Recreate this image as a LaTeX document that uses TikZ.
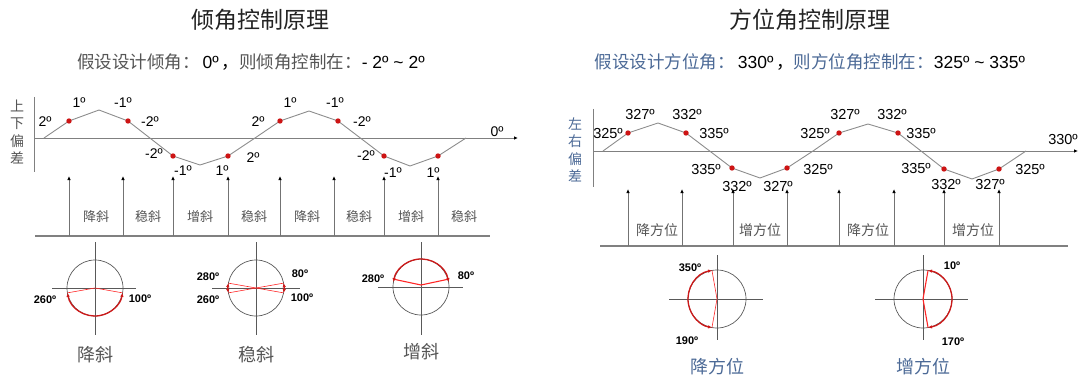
\documentclass[tikz,border=0pt]{standalone}
\usepackage{fontspec}
\setmainfont{Liberation Sans}
\newfontfamily\cjk{Noto Sans CJK SC}
\usetikzlibrary{arrows.meta}
\definecolor{ink}{RGB}{35,35,35}
\definecolor{cngray}{RGB}{85,85,85}
\definecolor{cnblue}{RGB}{75,105,150}
\definecolor{wave}{RGB}{140,140,140}
\definecolor{dot}{RGB}{205,20,20}
\definecolor{arcred}{RGB}{205,25,25}
\newcommand{\fs}[1]{\fontsize{#1}{#1}\selectfont}

\begin{document}
\begin{tikzpicture}[x=1pt,y=1pt,inner sep=0pt,
  deg/.style={font=\fs{14}},
  degr/.style={font=\fs{14.5}},
  ang/.style={font=\fs{11}\bfseries},
  band/.style={text=cngray,font=\fs{13}\cjk},
  bandr/.style={text=cngray,font=\fs{14}\cjk},
  dialname/.style={text=cngray,font=\fs{18}\cjk},
  ylab/.style={align=center,font=\fontsize{14}{17.5}\selectfont\cjk},
  axis/.style={draw=black!50,line width=0.8pt},
  wavel/.style={draw=wave,line width=0.9pt},
  up/.style={draw=black!55,line width=0.9pt,-{Latex[length=4pt,width=3.5pt,black]}},
  circ/.style={draw=black!65,line width=0.7pt},
  spoke/.style={draw=red!85,line width=0.6pt},
  swing/.style={draw=arcred,line width=1.3pt,{Latex[length=4pt,width=3.5pt]}-{Latex[length=4pt,width=3.5pt]}}]
  \useasboundingbox (0,0) rectangle (1083,378);

  % ---- tilt control (left) ----
  \node[font=\fs{23}\cjk,text=ink] (ttlL) at (260,358) {倾角控制原理};
  \node[font=\fs{17.5}] (subL) at (251,316) {{\cjk\color{cngray}假设设计倾角：}\,0º\,{\cjk ，}{\cjk\color{cngray}则倾角控制在：}- 2º \textasciitilde\ 2º};
  \node[ylab,text=cngray] (yL) at (17,246) {上\\下\\偏\\差};
  \draw[axis] (34,281) -- (34,206);
  \draw[axis,-{Latex[length=4pt,width=3.5pt,black]}] (34,240) -- (518,240);
  \node[deg] (z0) at (497,246) {0º};
  \draw[wavel] (44,240) -- (69,257) -- (99,268) -- (128,257) -- (173,222) -- (200,213) -- (228,222) -- (255,240)
    -- (280,257) -- (309,267) -- (338,257) -- (384,222) -- (410,212) -- (438,222) -- (466,240);
  \fill[dot] (69,257) circle (2.7); \fill[dot] (128,257) circle (2.7); \fill[dot] (173,222) circle (2.7); \fill[dot] (228,222) circle (2.7);
  \fill[dot] (280,257) circle (2.7); \fill[dot] (338,257) circle (2.7); \fill[dot] (384,222) circle (2.7); \fill[dot] (438,222) circle (2.7);
  \node[deg] (a1) at (45,256) {2º};   \node[deg] (a2) at (79,275) {1º};   \node[deg] (a3) at (123,275) {-1º}; \node[deg] (a4) at (150,256) {-2º};
  \node[deg] (a5) at (154,224) {-2º}; \node[deg] (a6) at (183,207) {-1º}; \node[deg] (a7) at (222,207) {1º};  \node[deg] (a8) at (253,220) {2º};
  \node[deg] (b1) at (258,256) {2º};  \node[deg] (b2) at (290,275) {1º};  \node[deg] (b3) at (335,275) {-1º}; \node[deg] (b4) at (362,256) {-2º};
  \node[deg] (b5) at (366,222) {-2º}; \node[deg] (b6) at (393,205) {-1º}; \node[deg] (b7) at (433,205) {1º};
  % moves
  \draw[axis,line width=1.1pt] (35,142) -- (490,142);
  \draw[up] (69,142) -- (69,202);   \draw[up] (123,142) -- (123,202); \draw[up] (173,142) -- (173,202); \draw[up] (228,142) -- (228,202);
  \draw[up] (280,142) -- (280,202); \draw[up] (334,142) -- (334,202); \draw[up] (384,142) -- (384,202); \draw[up] (438,142) -- (438,202);
  \node[band] (m1) at (96,161) {降斜};  \node[band] (m2) at (148,161) {稳斜}; \node[band] (m3) at (200,161) {增斜}; \node[band] (m4) at (254,161) {稳斜};
  \node[band] (m5) at (307,161) {降斜}; \node[band] (m6) at (359,161) {稳斜}; \node[band] (m7) at (411,161) {增斜}; \node[band] (m8) at (464,161) {稳斜};
  % dials
  \draw[circ] (95,90) circle (28); \draw[circ] (52,90) -- (136,90); \draw[circ] (95,136) -- (95,43);
  \draw[spoke] (95,90) -- ++(-10:28); \draw[spoke] (95,90) -- ++(-170:28);
  \draw[swing] (95,90) ++(-170:28) arc[start angle=-170,end angle=-10,radius=28];
  \node[ang] (d1a) at (45,78) {260º}; \node[ang] (d1b) at (140,79) {100º};
  \node[dialname] (c1) at (95,23) {降斜};
  \draw[circ] (256,90) circle (28); \draw[circ] (212,90) -- (300,90); \draw[circ] (256,136) -- (256,43);
  \draw[spoke] (256,90) -- ++(10:28); \draw[spoke] (256,90) -- ++(-10:28); \draw[spoke] (256,90) -- ++(170:28); \draw[spoke] (256,90) -- ++(190:28);
  \draw[swing] (256,90) ++(-10:28) arc[start angle=-10,end angle=10,radius=28];
  \draw[swing] (256,90) ++(170:28) arc[start angle=170,end angle=190,radius=28];
  \node[ang] (d2a) at (208,101) {280º}; \node[ang] (d2b) at (208,78) {260º}; \node[ang] (d2c) at (300,104) {80º}; \node[ang] (d2d) at (302,80) {100º};
  \node[dialname] (c2) at (256,23) {稳斜};
  \draw[circ] (421,91) circle (28); \draw[circ] (378,91) -- (463,91); \draw[circ] (421,136) -- (421,43);
  \draw[spoke,line width=1.1pt] (421,93) -- ++(12:27); \draw[spoke,line width=1.1pt] (421,93) -- ++(168:27);
  \draw[swing] (421,91) ++(10:28) arc[start angle=10,end angle=170,radius=28];
  \node[ang] (d3a) at (373,99) {280º}; \node[ang] (d3b) at (466,102) {80º};
  \node[dialname] (c3) at (421,26) {增斜};

  % ---- azimuth control (right) ----
  \node[font=\fs{23}\cjk,text=ink] (ttlR) at (810,358) {方位角控制原理};
  \node[font=\fs{17.5}] (subR) at (810,316) {{\cjk\color{cnblue}假设设计方位角：}\,330º\,{\cjk ，}{\cjk\color{cnblue}则方位角控制在：}325º \textasciitilde\ 335º};
  \node[ylab,text=cnblue] (yR) at (575,228) {左\\右\\偏\\差};
  \draw[axis] (593,269) -- (593,191);
  \draw[axis,-{Latex[length=4pt,width=3.5pt,black]}] (593,227) -- (1078,227);
  \node[degr] (z1) at (1063,238) {330º};
  \draw[wavel] (603,227) -- (628,245) -- (658,255) -- (686,245) -- (732,210) -- (760,200) -- (787,210) -- (813,227)
    -- (839,245) -- (868,254) -- (898,245) -- (944,209) -- (972,199) -- (999,209) -- (1026,227);
  \fill[dot] (628,245) circle (2.7); \fill[dot] (686,245) circle (2.7); \fill[dot] (732,210) circle (2.7); \fill[dot] (787,210) circle (2.7);
  \fill[dot] (839,245) circle (2.7); \fill[dot] (898,245) circle (2.7); \fill[dot] (944,209) circle (2.7); \fill[dot] (999,209) circle (2.7);
  \node[degr] (p1) at (608,244) {325º}; \node[degr] (p2) at (640,263) {327º}; \node[degr] (p3) at (687,263) {332º}; \node[degr] (p4) at (714,244) {335º};
  \node[degr] (p5) at (706,208) {335º}; \node[degr] (p6) at (737,191) {332º}; \node[degr] (p7) at (778,191) {327º}; \node[degr] (p8) at (818,208) {325º};
  \node[degr] (q1) at (815,244) {325º}; \node[degr] (q2) at (845,263) {327º}; \node[degr] (q3) at (892,263) {332º}; \node[degr] (q4) at (921,244) {335º};
  \node[degr] (q5) at (916,209) {335º}; \node[degr] (q6) at (946,193) {332º}; \node[degr] (q7) at (990,193) {327º}; \node[degr] (q8) at (1030,208) {325º};
  % moves
  \draw[axis,line width=1.1pt] (600,132) -- (1068,132);
  \draw[up] (628,132) -- (628,189); \draw[up] (682,132) -- (682,189); \draw[up] (733,132) -- (733,189); \draw[up] (787,132) -- (787,189);
  \draw[up] (839,132) -- (839,189); \draw[up] (894,132) -- (894,189); \draw[up] (944,132) -- (944,189); \draw[up] (999,132) -- (999,189);
  \node[bandr] (n1) at (657,148) {降方位}; \node[bandr] (n2) at (760,148) {增方位}; \node[bandr] (n3) at (868,148) {降方位}; \node[bandr] (n4) at (973,148) {增方位};
  % dials
  \draw[circ] (717,79) circle (29); \draw[circ] (669,79) -- (763,79); \draw[circ] (717,123) -- (717,38);
  \draw[spoke] (717,79) -- ++(100:29); \draw[spoke] (717,79) -- ++(260:29);
  \draw[swing] (717,79) ++(100:29) arc[start angle=100,end angle=260,radius=29];
  \node[ang] (e1a) at (690,110) {350º}; \node[ang] (e1b) at (687,37) {190º};
  \node[dialname,text=cnblue] (c4) at (717,11) {降方位};
  \draw[circ] (923,79) circle (29); \draw[circ] (875,79) -- (968,79); \draw[circ] (923,123) -- (923,38);
  \draw[spoke,line width=1.1pt] (923,79) -- ++(80:29); \draw[spoke,line width=1.1pt] (923,79) -- ++(-80:29);
  \draw[swing] (923,79) ++(-80:29) arc[start angle=-80,end angle=80,radius=29];
  \node[ang] (e2a) at (952,112) {10º}; \node[ang] (e2b) at (953,36) {170º};
  \node[dialname,text=cnblue] (c5) at (923,11) {增方位};
\end{tikzpicture}
\end{document}
